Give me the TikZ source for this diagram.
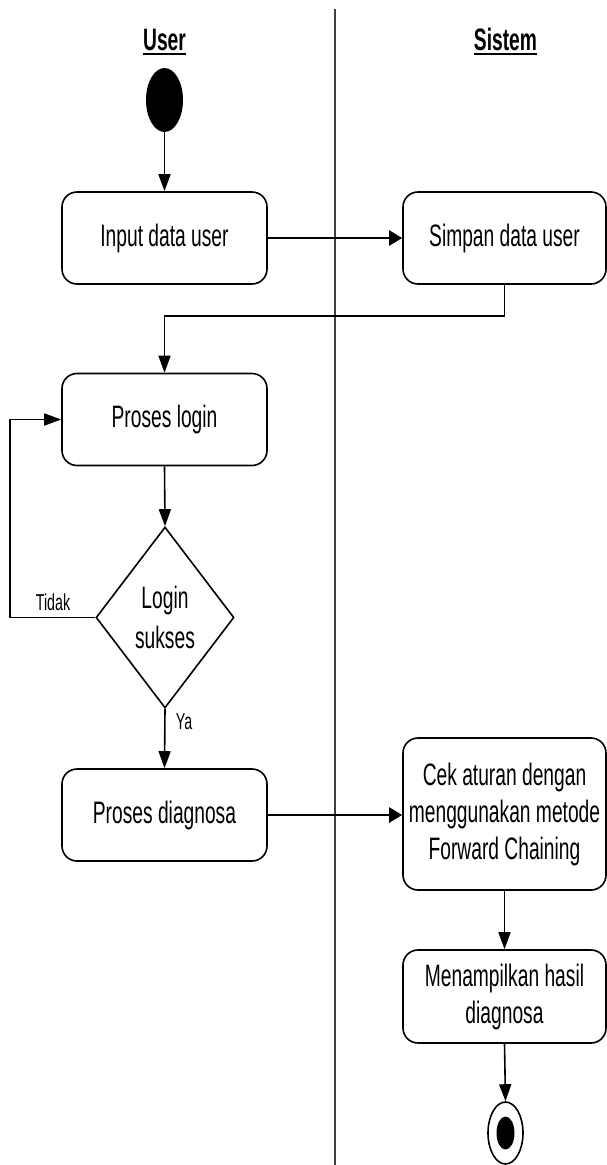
\documentclass[tikz,border=0pt]{standalone}
\usepackage{fontspec}
\setmainfont[FakeStretch=0.62]{Liberation Sans}
\usetikzlibrary{shapes.geometric,arrows.meta,calc}

\begin{document}
\begin{tikzpicture}[x=1pt,y=-1pt,
  act/.style={draw, rounded corners=15pt, line width=1.6pt, minimum width=205pt,
    minimum height=92pt, inner sep=0pt, align=center,
    font=\fontsize{31}{37}\selectfont},
  decide/.style={draw, diamond, line width=1.6pt, minimum width=138pt,
    minimum height=181pt, inner sep=0pt, align=center,
    font=\fontsize{31}{40}\selectfont},
  flow/.style={line width=1.6pt, -{Triangle[length=17pt,width=12pt]}},
  hflow/.style={line width=2.4pt, -{Triangle[length=13pt,width=15pt]}},
  lane/.style={line width=1.5pt, draw=black!75},
  title/.style={font=\bfseries\fontsize{31}{37}\selectfont, inner sep=0pt, anchor=base},
  guard/.style={font=\fontsize{23}{27}\selectfont, inner sep=0pt}]

\useasboundingbox (0,0) rectangle (607,1165);

% swimlane divider
\coordinate (laneTop) at (335,9);
\coordinate (laneBot) at (335,1165);
\draw[lane] (laneTop) -- (laneBot);

% lane titles
\node[title] (tuser) at (164.5,50) {User};
\node[title] (tsys) at (505.5,50) {Sistem};
\draw[line width=2.6pt] ($(tuser.base west)+(0,4)$) -- ($(tuser.base east)+(0,4)$);
\draw[line width=2.6pt] ($(tsys.base west)+(0,4)$) -- ($(tsys.base east)+(0,4)$);

% start
\node[ellipse, fill=black, minimum width=37pt, minimum height=64pt, inner sep=0pt] (start) at (164.5,100) {};

% activities
\node[act] (input) at (164.5,238) {Input data user};
\node[act, minimum width=203pt] (simpan) at (504.5,238) {Simpan data user};
\node[act] (login) at (164.5,419.5) {Proses login};
\node[decide] (dec) at (165,617.5) {Login\\sukses};
\node[act] (diag) at (164.5,815) {Proses diagnosa};
\node[act, minimum width=203pt, minimum height=152pt] (cek) at (504.5,814)
  {Cek aturan dengan\\menggunakan metode\\Forward Chaining};
\node[act, minimum width=203pt, minimum height=93pt] (tampil) at (504.5,996.5)
  {Menampilkan hasil\\diagnosa};

% end
\node[ellipse, draw, line width=1.6pt, minimum width=35pt, minimum height=62pt, inner sep=0pt] (stop) at (505.5,1133) {};
\node[ellipse, fill=black, minimum width=18pt, minimum height=33pt, inner sep=0pt] (stopdot) at (stop.center) {};

% connectors
\draw[flow] (start) -- (input);
\draw[hflow] (input.east) -- (simpan.west);
\draw[flow] (simpan.south) -- ++(0,31) -| (login.north);
\draw[flow] (login.south) -- (dec.north);
\coordinate (loopPt) at (10,617.5);
\draw[flow] (dec.west) -- (loopPt) |- (login.west);
\node[guard] (tidak) at (53,602) {Tidak};
\draw[flow] (dec.south) -- (diag.north);
\node[guard] (ya) at (184,722) {Ya};
\draw[hflow] (diag.east) -- (cek.west |- diag.east);
\draw[flow] (cek.south) -- (tampil.north);
\draw[flow] (tampil.south) -- (stop.north);

\end{tikzpicture}
\end{document}
